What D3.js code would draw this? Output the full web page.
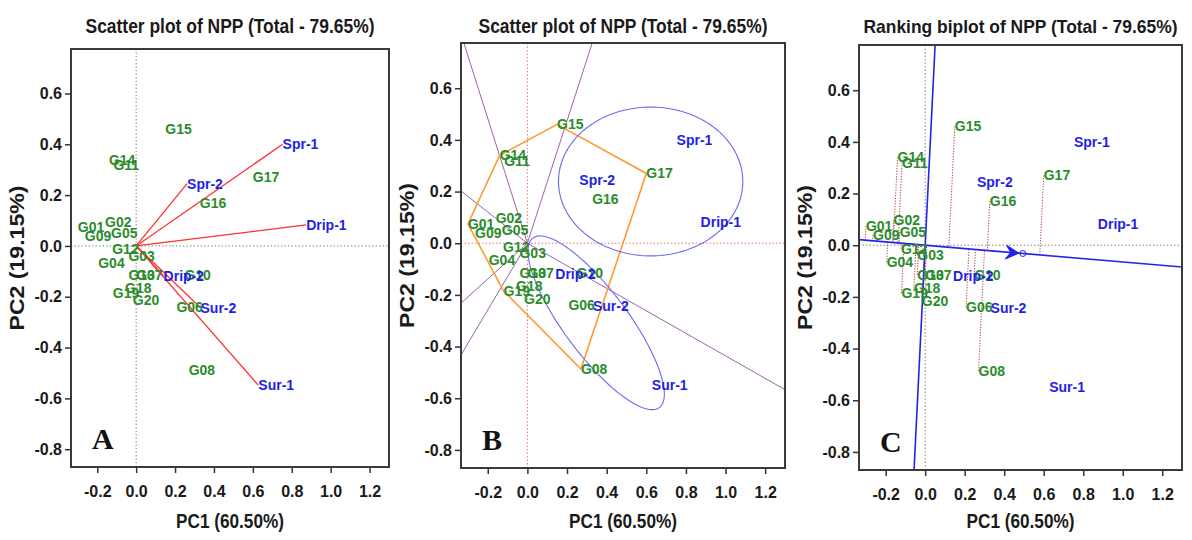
<!DOCTYPE html>
<html>
<head>
<meta charset="utf-8">
<title>GGE biplots of NPP</title>
<script src="https://d3js.org/d3.v7.min.js"></script>
<style>
  * { margin: 0; box-sizing: border-box; }
  body { background: #fff; }
  svg text { font-family: "Liberation Sans", Arial, sans-serif; font-weight: bold; }
  .tick text { font-size: 16px; fill: #1a1a1a; }
  .tick line { stroke: #333; stroke-width: 1.5px; }
  .title { font-size: 20.5px; fill: #1a1a1a; }
  .title.narrow { font-size: 19px; }
  .axis-title { font-size: 20px; fill: #1a1a1a; }
  .letter { font-family: "Liberation Serif", "Times New Roman", serif !important; font-size: 30px; fill: #111; }
  .gen { fill: #2b8c2b; font-size: 14px; }
  .env { fill: #1f1fe6; font-size: 14px; }
</style>
</head>
<body>
<svg id="chart" width="1192" height="540"></svg>
<script>
// genotype scores (PC1, PC2)
const genotypes = ["G01","G02","G03","G04","G05","G06","G07","G08","G09","G10",
                   "G11","G12","G13","G14","G15","G16","G17","G18","G19","G20"];
const genPC1 = [-0.300, -0.160, -0.040, -0.195, -0.129, 0.207, 0.000, 0.270, -0.264, 0.248,
                -0.117, -0.123, -0.040, -0.140, 0.150, 0.327, 0.600, -0.057, -0.120, -0.017];
const genPC2 = [0.075, 0.096, -0.039, -0.066, 0.050, -0.240, -0.115, -0.487, 0.039, -0.114,
                0.320, -0.013, -0.115, 0.340, 0.460, 0.170, 0.270, -0.167, -0.185, -0.214];

// environment scores
const environments = ["Spr-1", "Spr-2", "Drip-1", "Drip-2", "Sur-1", "Sur-2"];
const envPC1 = [0.753, 0.262, 0.874, 0.141, 0.628, 0.331];
const envPC2 = [0.400, 0.245, 0.083, -0.118, -0.548, -0.243];

// average environment coordinate (ranking biplot)
const meanEnv = [0.494, -0.032];

// mega-environment ellipses of panel B (centre + semi-axis vectors, PC units)
const ellipseSpr = { cx: 0.622, cy: 0.239, ax: 0.465, ay: 0, bx: 0, by: 0.288 };
const ellipseSur = { cx: 0.347, cy: -0.308, ax: 0.319, ay: -0.328, bx: 0.129, by: 0.074 };

const xTicks = [-0.2, 0.0, 0.2, 0.4, 0.6, 0.8, 1.0, 1.2];
const yTicks = [0.6, 0.4, 0.2, 0.0, -0.2, -0.4, -0.6, -0.8];
const titles = ["Scatter plot of NPP (Total - 79.65%)",
                "Scatter plot of NPP (Total - 79.65%)",
                "Ranking biplot of NPP (Total - 79.65%)"];
const letters = ["A", "B", "C"];
const xLabel = "PC1 (60.50%)";
const yLabel = "PC2 (19.15%)";

const xDomain = [-0.335, 1.30];
const yDomain = [-0.87, 0.775];

const panels = [
  { x0: 71,  x1: 389,  y0: 49, y1: 467 },
  { x0: 461, x1: 785,  y0: 43, y1: 468 },
  { x0: 859, x1: 1182, y0: 45, y1: 470 }
];

const gens = genotypes.map((g, i) => ({ name: g, x: genPC1[i], y: genPC2[i] }));
const envs = environments.map((e, i) => ({ name: e, x: envPC1[i], y: envPC2[i] }));

const svg = d3.select("#chart");

panels.forEach((p, k) => {
  const x = d3.scaleLinear().domain(xDomain).range([p.x0, p.x1]);
  const y = d3.scaleLinear().domain(yDomain).range([p.y1, p.y0]);
  const g = svg.append("g");

  g.append("clipPath").attr("id", "clip" + k)
    .append("rect").attr("x", p.x0).attr("y", p.y0)
    .attr("width", p.x1 - p.x0).attr("height", p.y1 - p.y0);

  // axes
  g.append("g").attr("transform", `translate(0,${p.y1})`)
    .call(d3.axisBottom(x).tickValues(xTicks).tickFormat(d => d.toFixed(1))
      .tickSize(6).tickSizeOuter(0).tickPadding(13))
    .call(a => a.select(".domain").remove());
  g.append("g").attr("transform", `translate(${p.x0},0)`)
    .call(d3.axisLeft(y).tickValues(yTicks).tickFormat(d => d.toFixed(1))
      .tickSize(6).tickSizeOuter(0).tickPadding(3))
    .call(a => a.select(".domain").remove());

  g.append("text").attr("class", k === 2 ? "title narrow" : "title")
    .attr("x", (p.x0 + p.x1) / 2).attr("y", 33)
    .attr("text-anchor", "middle")
    .attr("textLength", k === 2 ? 314 : 289).attr("lengthAdjust", "spacingAndGlyphs")
    .text(titles[k]);
  g.append("text").attr("class", "axis-title")
    .attr("x", (p.x0 + p.x1) / 2).attr("y", 528)
    .attr("text-anchor", "middle")
    .attr("textLength", 108).attr("lengthAdjust", "spacingAndGlyphs")
    .text(xLabel);
  g.append("text").attr("class", "axis-title")
    .attr("transform", `translate(${p.x0 - 54},${(p.y0 + p.y1) / 2}) rotate(-90)`)
    .attr("text-anchor", "middle").attr("dominant-baseline", "central")
    .attr("textLength", 145).attr("lengthAdjust", "spacingAndGlyphs")
    .text(yLabel);

  const plot = g.append("g").attr("clip-path", `url(#clip${k})`);
  const line = d3.line().x(d => x(d[0])).y(d => y(d[1]));

  // reference axes through origin
  const refColor = k === 1 ? "#f07070" : "#888";
  plot.append("line").attr("x1", x(0)).attr("x2", x(0)).attr("y1", p.y0).attr("y2", p.y1)
    .attr("stroke", refColor).attr("stroke-width", 1).attr("stroke-dasharray", "1.5,2");
  plot.append("line").attr("x1", p.x0).attr("x2", p.x1).attr("y1", y(0)).attr("y2", y(0))
    .attr("stroke", refColor).attr("stroke-width", 1).attr("stroke-dasharray", "1.5,2");

  if (k === 0) {
    // environment vectors
    plot.selectAll(".vec").data(envs).join("line")
      .attr("x1", x(0)).attr("y1", y(0))
      .attr("x2", d => x(d.x)).attr("y2", d => y(d.y))
      .attr("stroke", "#ff3030").attr("stroke-width", 1.3);
  }

  if (k === 1) {
    // which-won-where polygon and sector rays
    const hull = d3.polygonHull(gens.map(d => [d.x, d.y]));
    hull.forEach((a, i) => {
      const b = hull[(i + 1) % hull.length];
      const dx = b[0] - a[0], dy = b[1] - a[1];
      const t = -(a[0] * dx + a[1] * dy) / (dx * dx + dy * dy);
      const fx = a[0] + t * dx, fy = a[1] + t * dy;
      const len = Math.hypot(fx, fy);
      const ux = fx / len, uy = fy / len;
      const s = Math.min(
        ux > 0 ? xDomain[1] / ux : xDomain[0] / ux,
        uy > 0 ? yDomain[1] / uy : yDomain[0] / uy);
      plot.append("path").attr("d", line([[0, 0], [ux * s, uy * s]]))
        .attr("fill", "none").attr("stroke", "#9a64a8").attr("stroke-width", 1);
    });
    plot.append("path").attr("d", line.curve(d3.curveLinearClosed)(hull))
      .attr("fill", "none").attr("stroke", "#ff9a30").attr("stroke-width", 1.6);
    line.curve(d3.curveLinear);

    const ell = (e, from, to) => d3.range(from, to + 0.001, 2).map(deg => {
      const t = deg * Math.PI / 180;
      return [e.cx + e.ax * Math.cos(t) + e.bx * Math.sin(t),
              e.cy + e.ay * Math.cos(t) + e.by * Math.sin(t)];
    });
    plot.append("path").attr("d", line(ell(ellipseSpr, 0, 360)))
      .attr("fill", "none").attr("stroke", "#6a6af0").attr("stroke-width", 1.1);
    plot.append("path").attr("d", line(ell(ellipseSur, -265, 95)))
      .attr("fill", "none").attr("stroke", "#6a6af0").attr("stroke-width", 1.1);
    plot.append("path").attr("d", line(ell(ellipseSur, 95, 180)))
      .attr("fill", "none").attr("stroke", "#9a9af0").attr("stroke-width", 1)
      .attr("stroke-dasharray", "1.5,1.5");
  }

  if (k === 2) {
    const m = Math.hypot(meanEnv[0], meanEnv[1]);
    const ux = meanEnv[0] / m, uy = meanEnv[1] / m;
    // projections of genotypes on the average-environment axis
    plot.selectAll(".proj").data(gens).join("line")
      .attr("x1", d => x(d.x)).attr("y1", d => y(d.y))
      .attr("x2", d => x((d.x * ux + d.y * uy) * ux))
      .attr("y2", d => y((d.x * ux + d.y * uy) * uy))
      .attr("stroke", "#b03a3a").attr("stroke-width", 1).attr("stroke-dasharray", "1.2,1.5");
    plot.append("path").attr("d", line([[-3 * ux, -3 * uy], [3 * ux, 3 * uy]]))
      .attr("stroke", "#2424e8").attr("stroke-width", 1.6);
    plot.append("path").attr("d", line([[3 * uy, -3 * ux], [-3 * uy, 3 * ux]]))
      .attr("stroke", "#2424e8").attr("stroke-width", 1.6);
    const px = x(meanEnv[0]), py = y(meanEnv[1]);
    const ang = Math.atan2(py - y(0), px - x(0)) * 180 / Math.PI;
    plot.append("path")
      .attr("d", "M-4,0 L-17,-7 L-12,0 L-17,7 Z")
      .attr("transform", `translate(${px},${py}) rotate(${ang})`)
      .attr("fill", "#2424e8").attr("stroke", "#2424e8").attr("stroke-width", 1);
    plot.append("circle").attr("cx", px).attr("cy", py).attr("r", 3)
      .attr("fill", "none").attr("stroke", "#2424e8").attr("stroke-width", 1);
  }

  // labels
  plot.selectAll(".gen").data(gens).join("text").attr("class", "gen")
    .attr("x", d => x(d.x)).attr("y", d => y(d.y))
    .attr("dominant-baseline", "central").text(d => d.name);
  plot.selectAll(".env").data(envs).join("text").attr("class", "env")
    .attr("x", d => x(d.x)).attr("y", d => y(d.y))
    .attr("dominant-baseline", "central").text(d => d.name);

  g.append("rect").attr("x", p.x0).attr("y", p.y0)
    .attr("width", p.x1 - p.x0).attr("height", p.y1 - p.y0)
    .attr("fill", "none").attr("stroke", "#3a3a3a").attr("stroke-width", 2);

  g.append("text").attr("class", "letter")
    .attr("x", p.x0 + 21).attr("y", p.y1 - 18).text(letters[k]);
});
</script>
</body>
</html>
